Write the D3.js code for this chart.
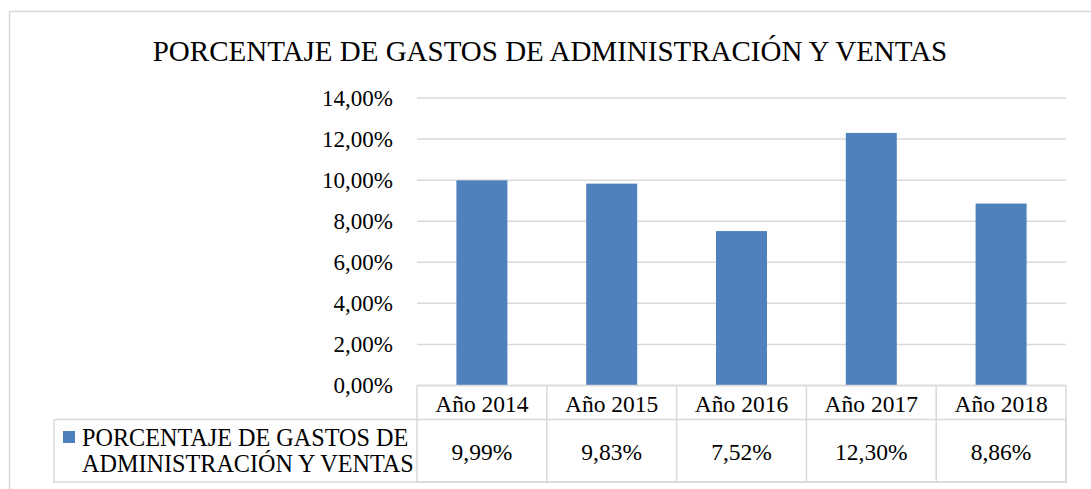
<!DOCTYPE html>
<html>
<head>
<meta charset="utf-8">
<script src="https://cdn.jsdelivr.net/npm/d3@7"></script>
<style>
  body { margin: 0; background: #fff; }
  svg text { font-family: "Liberation Serif", Tinos, "Times New Roman", "DejaVu Serif", serif; fill: #000; }
</style>
</head>
<body>
<script>
//chart data
var years = ["Año 2014", "Año 2015", "Año 2016", "Año 2017", "Año 2018"];
var values = [9.99, 9.83, 7.52, 12.30, 8.86];
var valueLabels = ["9,99%", "9,83%", "7,52%", "12,30%", "8,86%"];
var yTicks = [0, 2, 4, 6, 8, 10, 12, 14];
var seriesName = ["PORCENTAJE DE GASTOS DE", "ADMINISTRACIÓN Y VENTAS"];
var title = "PORCENTAJE DE GASTOS DE ADMINISTRACIÓN Y VENTAS";

var width = 1091, height = 489;
var grey = "#d9d9d9", blue = "#4f81bd";

var svg = d3.select("body").append("svg")
  .attr("width", width)
  .attr("height", height);

//outer chart border
svg.append("rect")
  .attr("x", 9.5).attr("y", 11.5)
  .attr("width", 1100).attr("height", 500)
  .attr("fill", "none").attr("stroke", grey).attr("stroke-width", 1.5);

svg.append("text")
  .attr("x", 550).attr("y", 61)
  .attr("text-anchor", "middle")
  .style("font-size", "29px")
  .text(title);

//scales
var cols = d3.scaleBand().domain(years).range([417, 1066]);
var y = d3.scaleLinear().domain([0, 14]).range([385.5, 98]);

//gridlines
svg.selectAll(".grid")
  .data(yTicks)
  .enter()
  .append("line")
  .attr("class", "grid")
  .attr("x1", 417).attr("x2", 1066)
  .attr("y1", function(d) { return y(d); })
  .attr("y2", function(d) { return y(d); })
  .attr("stroke", grey).attr("stroke-width", 1.5);

//y axis labels
svg.selectAll(".ytick")
  .data(yTicks)
  .enter()
  .append("text")
  .attr("class", "ytick")
  .attr("x", 393)
  .attr("y", function(d) { return y(d) + 7.5; })
  .attr("text-anchor", "end")
  .style("font-size", "23px")
  .text(function(d) { return d3.format(".2f")(d).replace(".", ",") + "%"; });

//bars
svg.selectAll(".bar")
  .data(values)
  .enter()
  .append("rect")
  .attr("class", "bar")
  .attr("x", function(d, i) { return cols(years[i]) + cols.bandwidth() / 2 - 25.5; })
  .attr("width", 51)
  .attr("y", function(d) { return y(d); })
  .attr("height", function(d) { return y(0) - y(d); })
  .attr("fill", blue);

//data table
var rowTop = 385.5, rowMid = 419.5, rowBot = 482;
var tbl = svg.append("g").attr("stroke", grey).attr("stroke-width", 1.5).attr("fill", "none");
tbl.append("rect").attr("x", 417).attr("y", rowTop).attr("width", 649).attr("height", rowBot - rowTop);
tbl.append("rect").attr("x", 54).attr("y", rowMid).attr("width", 1066 - 54).attr("height", rowBot - rowMid);
tbl.selectAll(".vline")
  .data(years.slice(1))
  .enter()
  .append("line")
  .attr("x1", function(d) { return cols(d); })
  .attr("x2", function(d) { return cols(d); })
  .attr("y1", rowTop).attr("y2", rowBot);

svg.selectAll(".yearLabel")
  .data(years)
  .enter()
  .append("text")
  .attr("class", "yearLabel")
  .attr("x", function(d) { return cols(d) + cols.bandwidth() / 2; })
  .attr("y", 412)
  .attr("text-anchor", "middle")
  .style("font-size", "23.5px")
  .text(function(d) { return d; });

svg.selectAll(".valLabel")
  .data(valueLabels)
  .enter()
  .append("text")
  .attr("class", "valLabel")
  .attr("x", function(d, i) { return cols(years[i]) + cols.bandwidth() / 2; })
  .attr("y", 460)
  .attr("text-anchor", "middle")
  .style("font-size", "23.5px")
  .text(function(d) { return d; });

//legend key
svg.append("rect")
  .attr("x", 63).attr("y", 431)
  .attr("width", 12).attr("height", 12)
  .attr("fill", blue);

svg.selectAll(".legendText")
  .data(seriesName)
  .enter()
  .append("text")
  .attr("class", "legendText")
  .attr("x", 82)
  .attr("y", function(d, i) { return 446 + i * 26; })
  .style("font-size", "24.2px")
  .text(function(d) { return d; });
</script>
</body>
</html>
